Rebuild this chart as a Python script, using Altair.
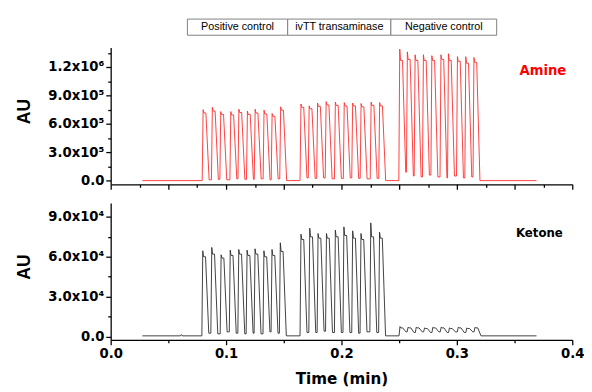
import altair as alt
import pandas as pd

# ---------------- axis ticks / labels ----------------
x_major_top = [0.0, 0.05, 0.1, 0.15, 0.2, 0.25, 0.3, 0.35, 0.4]
x_minor_top = [0.025, 0.075, 0.125, 0.175, 0.225, 0.275, 0.325, 0.375]
x_major_bottom = [0.0, 0.1, 0.2, 0.3, 0.4]
x_minor_bottom = [0.05, 0.15, 0.25, 0.35]
x_major_labels = ["0.0", "0.1", "0.2", "0.3", "0.4"]

amine_y_major = [0, 300000, 600000, 900000, 1200000]
amine_y_minor = [150000, 450000, 750000, 1050000, 1350000]
amine_y_labels = ["0.0", "3.0x10⁵", "6.0x10⁵", "9.0x10⁵", "1.2x10⁶"]

ketone_y_major = [0, 30000, 60000, 90000]
ketone_y_minor = [15000, 45000, 75000]
ketone_y_labels = ["0.0", "3.0x10⁴", "6.0x10⁴", "9.0x10⁴"]

# ---------------- header box ----------------
header_labels = ["Positive control", "ivTT transaminase", "Negative control"]
header_left = [0.0665, 0.1534, 0.2428]
header_right = [0.1534, 0.2428, 0.3345]

# ---------------- Amine trace ----------------
amine_base_t = [0.0275, 0.369]
amine_base_v = 1500
amine_t = [0.0801, 0.0881, 0.0954, 0.1041, 0.1111, 0.1185, 0.1252, 0.1329, 0.1399, 0.1473,
           0.1649, 0.1720, 0.1793, 0.1867, 0.1947, 0.2024, 0.2097, 0.2170, 0.2257, 0.2331,
           0.2505, 0.2571, 0.2638, 0.2710, 0.2783, 0.2862, 0.2927, 0.3005, 0.3077, 0.3148]
amine_peak = [750e3, 775e3, 730e3, 730e3, 755e3, 735e3, 755e3, 745e3, 710e3, 780e3,
              810e3, 790e3, 820e3, 835e3, 830e3, 825e3, 820e3, 815e3, 830e3, 825e3,
              1390e3, 1360e3, 1330e3, 1330e3, 1320e3, 1330e3, 1340e3, 1310e3, 1310e3, 1300e3]
amine_shoulder = [715e3, 735e3, 700e3, 695e3, 720e3, 700e3, 715e3, 705e3, 680e3, 745e3,
                  775e3, 760e3, 785e3, 800e3, 795e3, 790e3, 790e3, 780e3, 795e3, 790e3,
                  1270e3, 1280e3, 1270e3, 1270e3, 1270e3, 1280e3, 1270e3, 1260e3, 1240e3, 1250e3]
amine_trough = [10e3, 15e3, 10e3, 20e3, 15e3, 15e3, 20e3, 10e3, 20e3, 1.5e3,
                30e3, 25e3, 30e3, 20e3, 25e3, 30e3, 25e3, 20e3, 25e3, 1.5e3,
                90e3, 50e3, 40e3, 60e3, 40e3, 30e3, 50e3, 30e3, 40e3, 1.5e3]

# ---------------- Ketone trace ----------------
ketone_base_t = [0.0275, 0.369]
ketone_base_v = 500
ketone_bump_t = [0.0605, 0.0612, 0.0620]
ketone_bump_v = [500, 1500, 500]
ketone_t = [0.0798, 0.0876, 0.0957, 0.1036, 0.1110, 0.1182, 0.1251, 0.1328, 0.1398, 0.1470,
            0.1649, 0.1725, 0.1797, 0.1870, 0.1947, 0.2021, 0.2097, 0.2169, 0.2254, 0.2330,
            0.2507, 0.2577, 0.2648, 0.2720, 0.2792, 0.2864, 0.2936, 0.3012, 0.3086, 0.3157]
ketone_peak = [64.5e3, 67e3, 61.5e3, 65e3, 65.5e3, 65e3, 66e3, 64.5e3, 65.5e3, 70.5e3,
               77e3, 81.5e3, 77.5e3, 77.5e3, 80e3, 82.5e3, 79.5e3, 77.5e3, 85.5e3, 78.5e3,
               7.5e3, 7.0e3, 7.0e3, 6.5e3, 7.0e3, 7.0e3, 6.5e3, 7.0e3, 6.5e3, 7.0e3]
ketone_shoulder = [60e3, 62e3, 59e3, 61e3, 62e3, 61e3, 62e3, 60e3, 61e3, 64e3,
                   73e3, 75e3, 74e3, 74e3, 75e3, 76e3, 74e3, 73e3, 75e3, 74e3,
                   6.5e3, 6.5e3, 6.5e3, 6.0e3, 6.5e3, 6.5e3, 6.0e3, 6.5e3, 6.0e3, 6.5e3]
ketone_trough = [2.5e3, 2e3, 3.5e3, 2.5e3, 2e3, 2.5e3, 2e3, 3.5e3, 2.5e3, 0.5e3,
                 3e3, 3e3, 4e3, 3e3, 3e3, 3e3, 2.5e3, 3.5e3, 3e3, 0.5e3,
                 3.5e3, 3e3, 3.5e3, 3e3, 3.5e3, 3e3, 3.5e3, 3e3, 3.5e3, 0.5e3]

# pulse shape (time offsets around each read peak)
RISE, SH1, SH2, FALL = 0.0008, 0.0007, 0.0024, 0.0052

amine_label = {"t": [0.3745], "v": [1.16e6], "label": ["Amine"]}
ketone_label = {"t": [0.3715], "v": [78e3], "label": ["Ketone"]}


def build_trace(base_t, base_v, ts, peaks, shoulders, troughs, extra_t=(), extra_v=()):
    pts = [(base_t[0], base_v)]
    pts += list(zip(extra_t, extra_v))
    prev = base_v
    for tp, p, s, tr in zip(ts, peaks, shoulders, troughs):
        pts += [(tp - RISE, prev), (tp, p), (tp + SH1, s), (tp + SH2, s), (tp + FALL, tr)]
        prev = tr
    pts.append((base_t[1], base_v))
    pts.sort(key=lambda q: q[0])
    return pd.DataFrame({"t": [q[0] for q in pts], "v": [q[1] for q in pts],
                         "i": list(range(len(pts)))})


amine_df = build_trace(amine_base_t, amine_base_v, amine_t, amine_peak,
                       amine_shoulder, amine_trough)
ketone_df = build_trace(ketone_base_t, ketone_base_v, ketone_t, ketone_peak,
                        ketone_shoulder, ketone_trough, ketone_bump_t, ketone_bump_v)


def label_expr(values, labels, tol):
    e = "''"
    for v, l in reversed(list(zip(values, labels))):
        e = f"abs(datum.value - ({v})) < {tol} ? '{l}' : {e}"
    return e


BOLD_FONT = "DejaVu Sans"
W, H = 472, 140

x_scale = alt.Scale(domain=[0, 0.4], nice=False, zero=False)
amine_scale = alt.Scale(domain=[-38000, 1407000], nice=False, zero=False)
ketone_scale = alt.Scale(domain=[-2500, 100500], nice=False, zero=False)

common_axis = dict(domainColor="#000000", domainWidth=1.3, tickColor="#000000",
                   tickWidth=1.3, grid=False, labelColor="#000000",
                   labelFont=BOLD_FONT, labelFontWeight="bold", labelFontSize=13.5,
                   labelPadding=2)


def minor_axis(values, orient):
    return alt.Axis(values=values, orient=orient, labels=False, domain=False,
                    title=None, tickSize=3, tickColor="#000000", tickWidth=1.3,
                    grid=False)


top_x_axis = alt.Axis(values=x_major_top, labels=False, title=None, tickSize=5,
                      orient="bottom", **common_axis)
bottom_x_axis = alt.Axis(values=x_major_bottom, title="Time (min)", orient="bottom",
                         labelExpr=label_expr(x_major_bottom, x_major_labels, 1e-6),
                         tickSize=5, labelFlush=False, labelOverlap=False,
                         titleFont=BOLD_FONT, titleFontWeight="bold", titleFontSize=15.5,
                         titleColor="#000000", titleY=45, titleBaseline="alphabetic",
                         **common_axis)


def y_axis(major, labels):
    return alt.Axis(values=major, title="AU", orient="left",
                    labelExpr=label_expr(major, labels, 1e-3),
                    tickSize=5, labelOverlap=False, labelFlush=False,
                    titleFont="Liberation Sans", titleFontWeight="bold", titleFontSize=18,
                    titleColor="#000000", titleX=-83, titleY=65,
                    titleBaseline="alphabetic", titleAngle=270,
                    **common_axis)


header_df = pd.DataFrame({
    "x0": header_left, "x1": header_right,
    "xc": [(a + b) / 2 for a, b in zip(header_left, header_right)],
    "label": header_labels,
})

header_rect = alt.Chart(header_df).mark_rect(
    fill="white", stroke="#7f7f7f", strokeWidth=1
).encode(
    x=alt.X("x0:Q", scale=x_scale, axis=None), x2="x1:Q",
    y=alt.value(-29), y2=alt.value(-12.5),
)
header_text = alt.Chart(header_df).mark_text(
    font="Liberation Sans", fontSize=11, baseline="middle", align="center", color="#000000"
).encode(
    x=alt.X("xc:Q", scale=x_scale, axis=None), y=alt.value(-20.5), text="label:N"
)

amine_line = alt.Chart(amine_df).mark_line(color="#ff2a2a", strokeWidth=0.9).encode(
    x=alt.X("t:Q", scale=x_scale, axis=top_x_axis),
    y=alt.Y("v:Q", scale=amine_scale, axis=y_axis(amine_y_major, amine_y_labels)),
    order="i:Q",
)
amine_minor = alt.Chart(amine_df).mark_line(strokeOpacity=0).encode(
    x=alt.X("t:Q", scale=x_scale, axis=minor_axis(x_minor_top, "bottom")),
    y=alt.Y("v:Q", scale=amine_scale, axis=minor_axis(amine_y_minor, "left")),
    order="i:Q",
)
amine_text = alt.Chart(pd.DataFrame(amine_label)).mark_text(
    color="#ff0000", font=BOLD_FONT, fontWeight="bold", fontSize=13.5,
    align="center", baseline="middle"
).encode(
    x=alt.X("t:Q", scale=x_scale, axis=None),
    y=alt.Y("v:Q", scale=amine_scale, axis=None),
    text="label:N",
)

ketone_line = alt.Chart(ketone_df).mark_line(color="#2a2a2a", strokeWidth=0.9).encode(
    x=alt.X("t:Q", scale=x_scale, axis=bottom_x_axis),
    y=alt.Y("v:Q", scale=ketone_scale, axis=y_axis(ketone_y_major, ketone_y_labels)),
    order="i:Q",
)
ketone_minor = alt.Chart(ketone_df).mark_line(strokeOpacity=0).encode(
    x=alt.X("t:Q", scale=x_scale, axis=minor_axis(x_minor_bottom, "bottom")),
    y=alt.Y("v:Q", scale=ketone_scale, axis=minor_axis(ketone_y_minor, "left")),
    order="i:Q",
)
ketone_text = alt.Chart(pd.DataFrame(ketone_label)).mark_text(
    color="#000000", font=BOLD_FONT, fontWeight="bold", fontSize=12,
    align="center", baseline="middle"
).encode(
    x=alt.X("t:Q", scale=x_scale, axis=None),
    y=alt.Y("v:Q", scale=ketone_scale, axis=None),
    text="label:N",
)

top = alt.layer(amine_line, amine_minor, amine_text, header_rect, header_text).resolve_axis(
    x="independent", y="independent").properties(width=W, height=H)
bottom = alt.layer(ketone_line, ketone_minor, ketone_text).resolve_axis(
    x="independent", y="independent").properties(width=W, height=H)

chart = alt.vconcat(top, bottom, spacing=19, bounds="flush").properties(
    padding={"left": 8, "top": 6, "right": 0, "bottom": 0},
    background="white",
).configure_view(strokeWidth=0)

chart.save("out.html", embed_options={"renderer": "svg", "actions": False})
